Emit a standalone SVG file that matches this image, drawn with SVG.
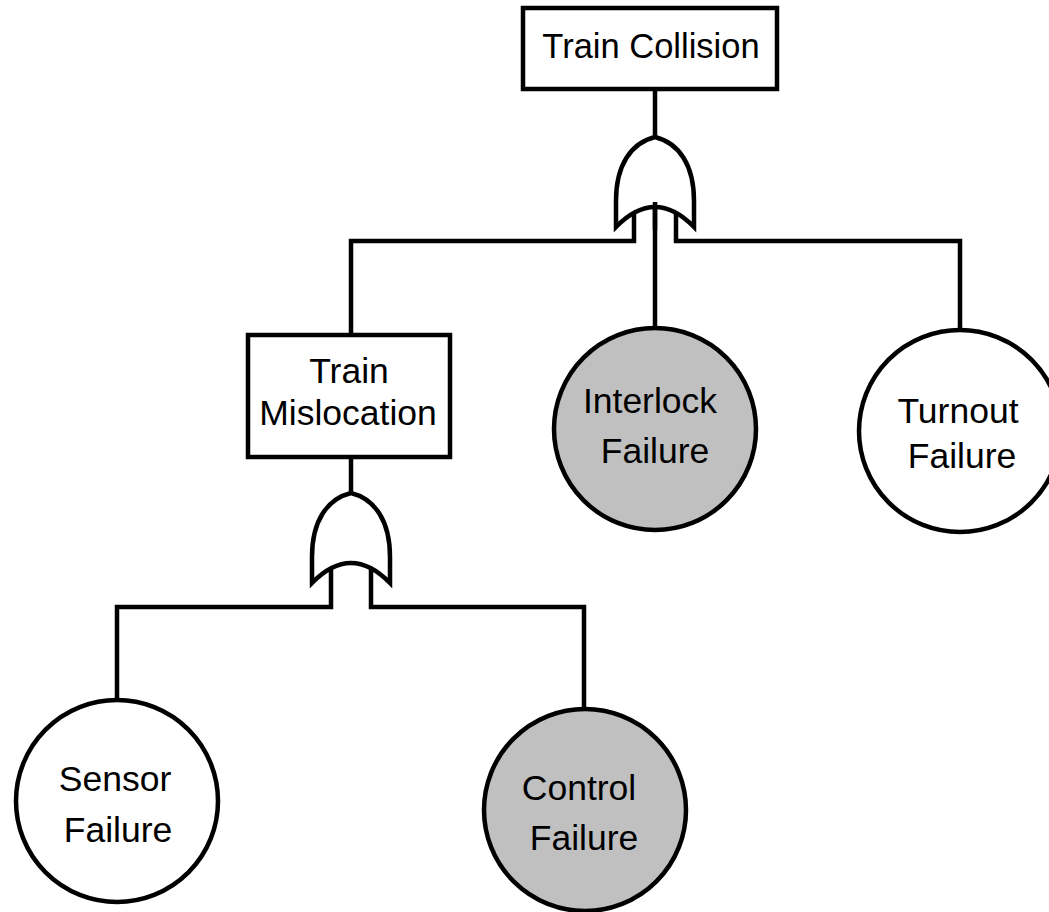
<svg xmlns="http://www.w3.org/2000/svg" width="1049" height="912" viewBox="0 0 1049 912">
  <style>
    .box { fill: #ffffff; stroke: #000000; stroke-width: 4.5; }
    .basic { fill: #ffffff; stroke: #000000; stroke-width: 4.5; }
    .basic.shaded { fill: #c0c0c0; }
    .gate { fill: #ffffff; stroke: #000000; stroke-width: 4.5; stroke-linejoin: miter; }
    .wire { fill: none; stroke: #000000; stroke-width: 4.5; stroke-linecap: butt; stroke-linejoin: miter; }
    .label { font-family: "Liberation Sans", Arial, sans-serif; font-size: 35.5px; fill: #000000; text-anchor: middle; }
    .label.top { font-size: 34.5px; }
  </style>
  <defs>
    <!-- OR gate, origin at the top output point -->
    <path id="or-gate" d="M -39,90 L -39,64 C -39,28 -24,6 0,0 C 24,6 39,28 39,64 L 39,90 Q 0,50 -39,90 Z"/>
  </defs>

  <rect width="1049" height="912" fill="#ffffff"/>

  <!-- connectors -->
  <g id="connectors">
    <!-- top event to OR gate -->
    <path class="wire" d="M 655,89 L 655,137"/>
    <!-- OR gate inputs -->
    <path class="wire" d="M 634,212 L 634,241 L 351,241 L 351,335"/>
    <path class="wire" d="M 655,202 L 655,328"/>
    <path class="wire" d="M 676,212 L 676,241 L 960,241 L 960,329"/>
    <!-- intermediate event to OR gate -->
    <path class="wire" d="M 351,457 L 351,493"/>
    <!-- second OR gate inputs -->
    <path class="wire" d="M 331,568 L 331,607 L 117,607 L 117,707"/>
    <path class="wire" d="M 371,568 L 371,607 L 584,607 L 584,709"/>
  </g>

  <!-- gates -->
  <g id="gate-collision">
    <use href="#or-gate" class="gate" transform="translate(655,137)"/>
  </g>
  <g id="gate-mislocation">
    <use href="#or-gate" class="gate" transform="translate(351,493)"/>
  </g>
  <!-- centre input passes through the first gate -->
  <path class="wire" d="M 655,202 L 655,230"/>

  <g id="train-collision">
    <rect class="box" x="523" y="8" width="254" height="81"/>
    <text class="label top" x="651" y="58">Train Collision</text>
  </g>

  <g id="train-mislocation">
    <rect class="box" x="248" y="335" width="202" height="122"/>
    <text class="label" x="349" y="383">Train</text>
    <text class="label" x="348" y="425">Mislocation</text>
  </g>

  <g id="interlock-failure">
    <circle class="basic shaded" cx="655" cy="429" r="101"/>
    <text class="label" x="650" y="413">Interlock</text>
    <text class="label" x="655" y="463">Failure</text>
  </g>

  <g id="turnout-failure">
    <circle class="basic" cx="960" cy="431" r="101"/>
    <text class="label" x="958" y="423">Turnout</text>
    <text class="label" x="962" y="468">Failure</text>
  </g>

  <g id="sensor-failure">
    <circle class="basic" cx="117" cy="801" r="101"/>
    <text class="label" x="115" y="791">Sensor</text>
    <text class="label" x="118" y="842">Failure</text>
  </g>

  <g id="control-failure">
    <circle class="basic shaded" cx="585" cy="810" r="101"/>
    <text class="label" x="579" y="800">Control</text>
    <text class="label" x="584" y="850">Failure</text>
  </g>
</svg>
